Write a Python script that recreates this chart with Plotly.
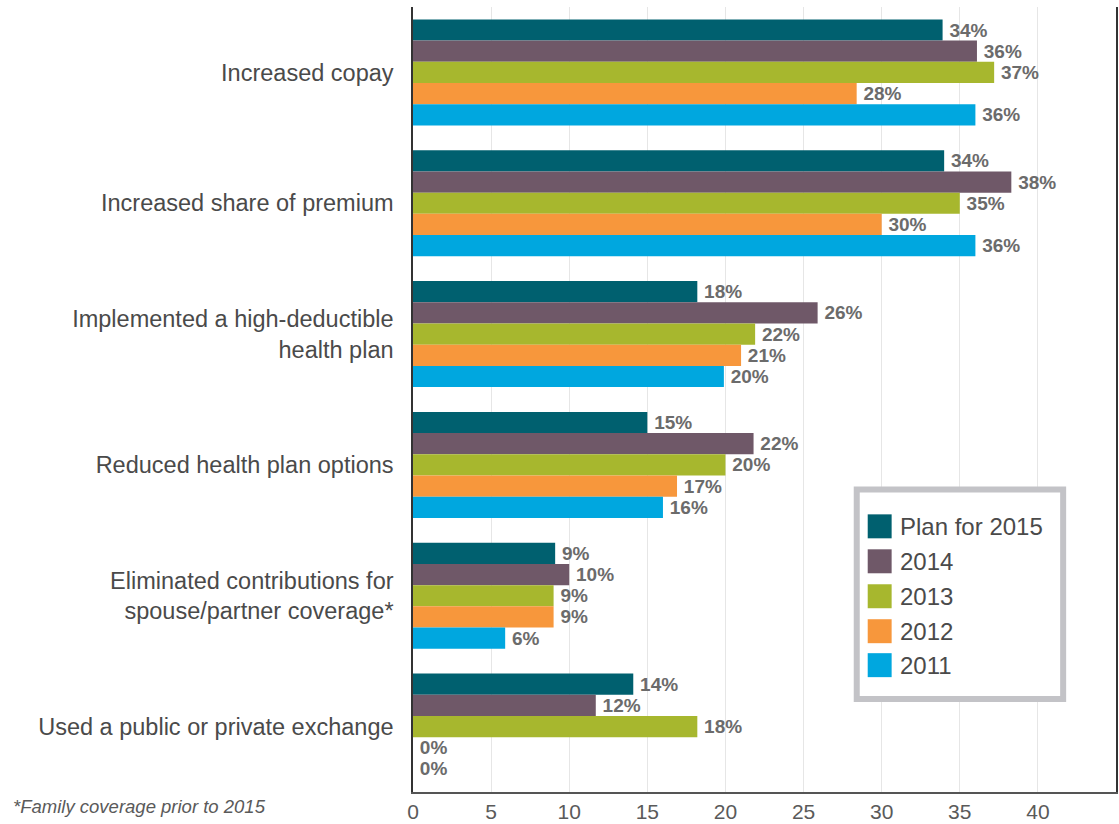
import plotly.graph_objects as go

categories = [
    "Increased copay",
    "Increased share of premium",
    "Implemented a high-deductible<br>health plan",
    "Reduced health plan options",
    "Eliminated contributions for<br>spouse/partner coverage*",
    "Used a public or private exchange",
]
series_names = ["Plan for 2015", "2014", "2013", "2012", "2011"]
plan_2015 = [33.9, 34.0, 18.2, 15.0, 9.1, 14.1]
y2014 = [36.1, 38.3, 25.9, 21.8, 10.0, 11.7]
y2013 = [37.2, 35.0, 21.9, 20.0, 9.0, 18.2]
y2012 = [28.4, 30.0, 21.0, 16.9, 9.0, 0]
y2011 = [36.0, 36.0, 19.9, 16.0, 5.9, 0]
colors = ["#00606f", "#6f5868", "#a7b72e", "#f7973c", "#00a7df"]
x_ticks = [0, 5, 10, 15, 20, 25, 30, 35, 40]
footnote = "*Family coverage prior to 2015"

series_values = [plan_2015, y2014, y2013, y2012, y2011]

W, H = 1119, 824
L, R, T, B = 413, 1, 7, 31
PW, PH = W - L - R, H - T - B


def px_x(px):
    return (px - L) / PW


def px_y(py):
    return (H - B - py) / PH


fig = go.Figure()
for name, vals, col in zip(series_names, series_values, colors):
    fig.add_trace(go.Bar(
        y=categories, x=vals, name=name, orientation="h",
        marker=dict(color=col, line=dict(width=0)),
        text=[f"\u2009{v:.0f}%" for v in vals],
        textposition="outside",
        textfont=dict(family="Liberation Sans", size=19, color="#6b6b6b", weight="bold"),
        cliponaxis=False,
        showlegend=False,
    ))

shapes = []
annotations = []
# custom legend box
shapes.append(dict(type="rect", xref="paper", yref="paper",
                   x0=px_x(858), x1=px_x(1065), y0=px_y(700), y1=px_y(490),
                   line=dict(color="#c3c3c7", width=6), fillcolor="white", layer="above"))
item_y = [527, 562, 597, 632, 666]
for name, col, cy in zip(series_names, colors, item_y):
    shapes.append(dict(type="rect", xref="paper", yref="paper",
                       x0=px_x(869), x1=px_x(893), y0=px_y(cy + 12), y1=px_y(cy - 12),
                       line=dict(width=0), fillcolor=col, layer="above"))
    annotations.append(dict(text=name, xref="paper", yref="paper", x=px_x(899), y=px_y(cy),
                            xanchor="left", yanchor="middle", showarrow=False,
                            font=dict(family="Liberation Sans", size=24, color="#4a4a4a")))

annotations.append(dict(text=f"<i>{footnote}</i>", xref="paper", yref="paper",
                        x=px_x(10), y=px_y(808), xanchor="left", yanchor="middle",
                        showarrow=False,
                        font=dict(family="Liberation Sans", size=18.5, color="#5a5a5a")))

fig.update_layout(
    width=W, height=H,
    margin=dict(l=L, r=R, t=T, b=B, pad=0),
    paper_bgcolor="white", plot_bgcolor="white",
    barmode="group", bargap=0.19, bargroupgap=0,
    shapes=shapes, annotations=annotations,
    xaxis=dict(range=[0, 45], tickvals=x_ticks, ticktext=[str(t) for t in x_ticks],
               showgrid=True, gridcolor="#e6e6e6", gridwidth=1,
               showline=True, linecolor="#555555", linewidth=1.5,
               zeroline=False, ticks="",
               tickfont=dict(family="Liberation Sans", size=21, color="#5a5a5a")),
    yaxis=dict(autorange="reversed", showline=True, linecolor="#333333", linewidth=1.5,
               mirror=True, showgrid=False, ticks="", ticklabelstandoff=13,
               tickfont=dict(family="Liberation Sans", size=23.5, color="#4a4a4a")),
    font=dict(family="Liberation Sans"),
)

fig.write_html("out.html", config={"displayModeBar": False},
               post_script="document.body.style.margin='0';document.body.style.overflow='hidden';")
